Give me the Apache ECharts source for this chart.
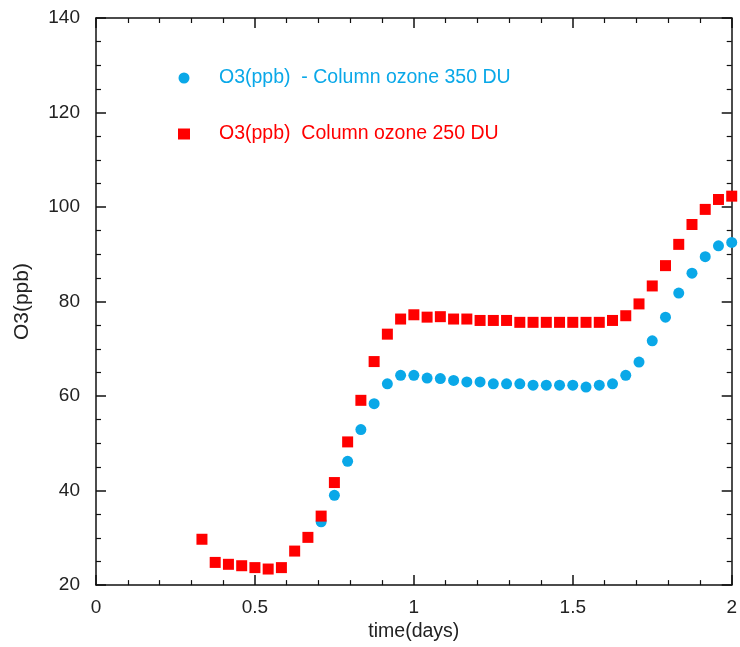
<!DOCTYPE html>
<html>
<head>
<meta charset="utf-8">
<script src="https://cdn.jsdelivr.net/npm/echarts@6/dist/echarts.min.js"></script>
<style>
  html, body { margin: 0; padding: 0; background: #fff; }
  #chart { width: 740px; height: 647px; }
</style>
</head>
<body>
<div id="chart"></div>
<script>
// Hourly model output, time in hours from start of run
const hoursRed = [8,9,10,11,12,13,14,15,16,17,18,19,20,21,22,23,24,25,26,27,28,29,30,31,32,33,34,35,36,37,38,39,40,41,42,43,44,45,46,47,48];
const ozone250 = [29.7,24.8,24.4,24.1,23.7,23.4,23.7,27.2,30.1,34.6,41.7,50.3,59.1,67.3,73.1,76.3,77.2,76.7,76.8,76.3,76.3,76.0,76.0,76.0,75.6,75.6,75.6,75.6,75.6,75.6,75.6,76.0,77.0,79.5,83.3,87.6,92.1,96.3,99.5,101.6,102.3];
const hoursBlue = [17,18,19,20,21,22,23,24,25,26,27,28,29,30,31,32,33,34,35,36,37,38,39,40,41,42,43,44,45,46,47,48];
const ozone350 = [33.4,39.0,46.2,52.9,58.4,62.6,64.4,64.4,63.8,63.7,63.3,63.0,63.0,62.6,62.6,62.6,62.3,62.3,62.3,62.3,61.9,62.3,62.6,64.4,67.2,71.7,76.7,81.8,86.0,89.5,91.8,92.5];
const name350 = 'O3(ppb)  - Column ozone 350 DU';
const name250 = 'O3(ppb)  Column ozone 250 DU';
const xTicks = [0, 0.5, 1, 1.5, 2];
const yTicks = [20, 40, 60, 80, 100, 120, 140];

const toPairs = (hrs, vals) => hrs.map((h, i) => [h / 24, vals[i]]);

const FONT = 'Liberation Sans, Arial, sans-serif';
const BLUE = '#0aa8e8';
const RED = '#ff0000';
const INK = '#222';

function frameAxis(extra, minorSplit) {
  return Object.assign({
    axisLine: { show: true, onZero: false, lineStyle: { color: '#111', width: 1.5 } },
    axisTick: { show: true, inside: true, length: 10, lineStyle: { color: '#111', width: 1.5 } },
    minorTick: { show: true, splitNumber: minorSplit, length: 5, lineStyle: { color: '#111', width: 1.2 } },
    splitLine: { show: false },
    minorSplitLine: { show: false }
  }, extra);
}

const chart = echarts.init(document.getElementById('chart'), null, { renderer: 'canvas' });
chart.setOption({
  backgroundColor: '#ffffff',
  animation: false,
  grid: { left: 96, right: 4, top: 18, bottom: 60, containLabel: false },
  legend: {
    orient: 'vertical',
    left: 173,
    top: 63,
    itemGap: 36,
    itemWidth: 12,
    itemHeight: 11,
    selectedMode: false,
    textStyle: { fontFamily: FONT, fontSize: 19.5, padding: [0, 0, 0, 24] },
    data: [
      { name: name350, icon: 'circle', textStyle: { color: BLUE } },
      { name: name250, icon: 'rect', textStyle: { color: RED } }
    ]
  },
  xAxis: [
    frameAxis({
      type: 'value', min: xTicks[0], max: xTicks[xTicks.length - 1], interval: 0.5,
      position: 'bottom',
      name: 'time(days)', nameLocation: 'middle', nameGap: 36,
      nameTextStyle: { fontFamily: FONT, fontSize: 19.5, color: INK },
      axisLabel: { fontFamily: FONT, fontSize: 19, color: INK, margin: 13, formatter: v => String(v) }
    }, 5),
    frameAxis({
      type: 'value', min: xTicks[0], max: xTicks[xTicks.length - 1], interval: 0.5,
      position: 'top', axisLabel: { show: false }
    }, 5)
  ],
  yAxis: [
    frameAxis({
      type: 'value', min: yTicks[0], max: yTicks[yTicks.length - 1], interval: 20,
      position: 'left',
      name: 'O3(ppb)', nameLocation: 'middle', nameGap: 63, nameRotate: 90,
      nameTextStyle: { fontFamily: FONT, fontSize: 21, color: INK },
      axisLabel: { fontFamily: FONT, fontSize: 19, color: INK, margin: 16 }
    }, 4),
    frameAxis({
      type: 'value', min: yTicks[0], max: yTicks[yTicks.length - 1], interval: 20,
      position: 'right', axisLabel: { show: false }
    }, 4)
  ],
  series: [
    {
      name: name350, type: 'scatter', xAxisIndex: 0, yAxisIndex: 0,
      symbol: 'circle', symbolSize: 11,
      itemStyle: { color: BLUE, opacity: 1 },
      data: toPairs(hoursBlue, ozone350), z: 3
    },
    {
      name: name250, type: 'scatter', xAxisIndex: 0, yAxisIndex: 0,
      symbol: 'rect', symbolSize: 11,
      itemStyle: { color: RED, opacity: 1 },
      data: toPairs(hoursRed, ozone250), z: 4
    }
  ]
});
</script>
</body>
</html>
